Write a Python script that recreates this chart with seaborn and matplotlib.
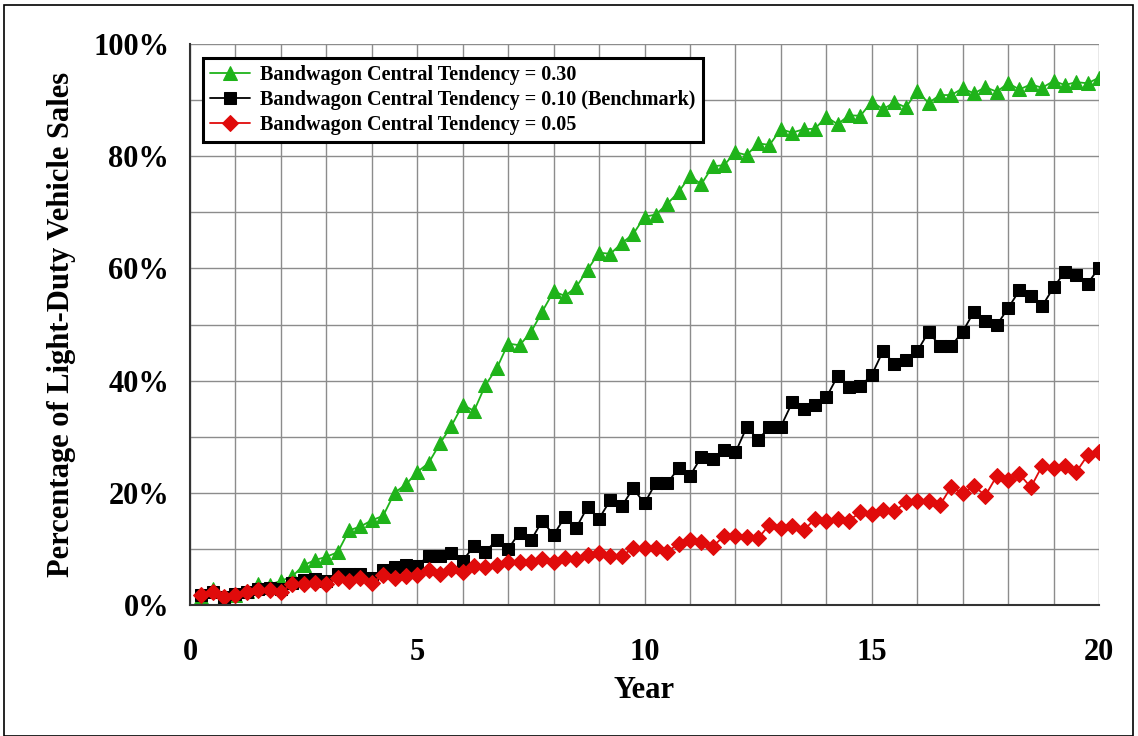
import numpy as np
import pandas as pd
import matplotlib
matplotlib.use("Agg")
import matplotlib.pyplot as plt
import seaborn as sns
from matplotlib.ticker import MultipleLocator, FuncFormatter
from matplotlib.patches import Rectangle

years = np.arange(0.25, 20.001, 0.25)

ct_030 = [1.5, 2.8, 1.3, 1.8, 2.5, 3.7, 3.6, 4.3, 5.1, 7.1, 8.0, 8.6, 9.4, 13.3, 14.0, 15.1,
          15.9, 20.0, 21.5, 23.7, 25.3, 28.8, 31.9, 35.7, 34.6, 39.2, 42.2, 46.6, 46.3, 48.6,
          52.3, 55.9, 55.1, 56.7, 59.8, 62.8, 62.6, 64.5, 66.1, 69.2, 69.6, 71.5, 73.6, 76.5,
          75.0, 78.2, 78.4, 80.7, 80.2, 82.3, 82.0, 84.8, 84.2, 84.8, 84.9, 87.0, 85.7, 87.3,
          87.2, 89.7, 88.4, 89.6, 88.7, 91.6, 89.5, 90.9, 90.9, 92.1, 91.2, 92.3, 91.5, 93.0,
          91.9, 92.8, 92.2, 93.4, 92.7, 93.2, 93.0, 94.0]

ct_010 = [1.8, 2.4, 1.5, 1.9, 2.3, 2.9, 3.0, 2.8, 4.0, 4.5, 4.7, 4.3, 5.6, 5.5, 5.5, 4.9,
          6.3, 6.8, 7.2, 7.0, 8.8, 8.7, 9.2, 7.9, 10.5, 9.5, 11.6, 10.0, 12.9, 11.5,
          15.0, 12.5, 15.7, 13.8, 17.5, 15.4, 18.7, 17.6, 20.8, 18.1, 21.8, 21.7, 24.4, 23.0,
          26.4, 26.1, 27.7, 27.2, 31.7, 29.5, 31.7, 31.8, 36.1, 34.9, 35.7, 37.0, 40.8, 38.8,
          39.0, 41.0, 45.3, 42.9, 43.6, 45.2, 48.7, 46.2, 46.2, 48.7, 52.3, 50.7, 49.9, 52.9,
          56.1, 55.0, 53.3, 56.6, 59.4, 58.8, 57.3, 60.1]

ct_005 = [1.7, 2.3, 1.5, 1.7, 2.4, 2.6, 2.6, 2.4, 3.7, 3.7, 3.9, 3.7, 4.8, 4.2, 4.8, 4.0,
          5.3, 4.9, 5.2, 5.3, 6.2, 5.6, 6.5, 5.9, 7.0, 6.7, 7.2, 7.6, 7.6, 7.6,
          8.2, 7.7, 8.3, 8.2, 8.9, 9.2, 8.8, 8.8, 10.1, 10.2, 10.1, 9.5, 10.9, 11.5,
          11.3, 10.4, 12.3, 12.3, 12.2, 11.9, 14.3, 13.7, 14.1, 13.3, 15.3, 15.0, 15.3, 15.0,
          16.6, 16.2, 17.0, 16.7, 18.3, 18.6, 18.6, 17.8, 21.1, 19.9, 21.2, 19.5, 23.0, 22.3,
          23.3, 21.0, 24.8, 24.4, 24.7, 23.7, 26.7, 27.3]

labels = ["Bandwagon Central Tendency = 0.30",
          "Bandwagon Central Tendency = 0.10 (Benchmark)",
          "Bandwagon Central Tendency = 0.05"]

sns.set_theme(style="white")
plt.rcParams['font.family'] = ['Liberation Serif', 'DejaVu Serif']
plt.rcParams['font.weight'] = 'bold'
for k in ['text.color', 'axes.labelcolor', 'xtick.color', 'ytick.color']:
    plt.rcParams[k] = 'black'

fig = plt.figure(figsize=(11.38, 7.36), dpi=100)
ax = fig.add_axes([190/1138, 1-605/736, (1099-190)/1138, (605-44)/736])

series = [
    (ct_030, labels[0], '#1fb31a', '^', 10),
    (ct_010, labels[1], '#000000', 's', 9),
    (ct_005, labels[2], '#e00b0b', 'D', 8),
]
for vals, lab, col, mk, ms in series:
    df = pd.DataFrame({"Year": years, "Share": vals})
    sns.lineplot(data=df, x="Year", y="Share", ax=ax, color=col, marker=mk,
                 markersize=ms, markeredgecolor=col, linewidth=1.3, label=lab)

ax.set_xlim(0, 20)
ax.set_ylim(0, 100)
ax.xaxis.set_major_locator(MultipleLocator(5))
ax.xaxis.set_minor_locator(MultipleLocator(1))
ax.yaxis.set_major_locator(MultipleLocator(20))
ax.yaxis.set_minor_locator(MultipleLocator(10))
ax.yaxis.set_major_formatter(FuncFormatter(lambda v, p: f"{v:.0f}%"))
ax.grid(True, which='both', color='#8c8c8c', linewidth=1.0)
ax.set_axisbelow(True)

for s in ['top', 'right']:
    ax.spines[s].set_visible(False)
for s in ['left', 'bottom']:
    ax.spines[s].set_color('#333333')
    ax.spines[s].set_linewidth(1.5)

ax.tick_params(axis='both', which='major', direction='out', length=6, width=1.2,
               color='#333333', labelsize=22, labelcolor='black')
ax.tick_params(axis='x', which='major', pad=18)
ax.tick_params(axis='y', which='major', pad=9)
ax.tick_params(axis='both', which='minor', length=0)
for t in ax.get_xticklabels() + ax.get_yticklabels():
    t.set_fontweight('bold')

ax.set_xlabel("Year", fontsize=22, fontweight='bold', labelpad=6, color='black')
ax.set_ylabel("Percentage of Light-Duty Vehicle Sales", fontsize=22, fontweight='bold',
              labelpad=12, color='black')

leg = ax.legend(loc='upper left', bbox_to_anchor=(0.0143, 0.975), borderaxespad=0,
                frameon=True, fancybox=False, shadow=False, framealpha=1,
                prop={'weight': 'bold', 'size': 14.5}, handlelength=2.0,
                labelspacing=0.25, borderpad=0.35, handletextpad=0.5)
leg.get_frame().set_edgecolor('black')
leg.get_frame().set_linewidth(2.2)
for t in leg.get_texts():
    t.set_color('black')

fig.patches.append(Rectangle((4/1138, 0), 1129/1138, 731/736, transform=fig.transFigure,
                             fill=False, edgecolor='black', linewidth=1.2))

fig.savefig("out.png", dpi=100)
